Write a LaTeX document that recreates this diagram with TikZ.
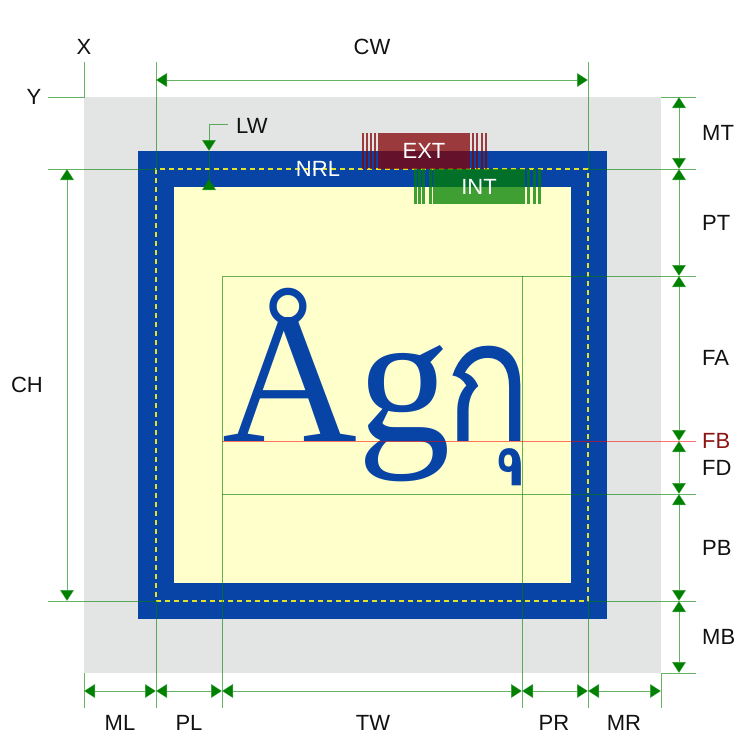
\documentclass[tikz,border=0pt]{standalone}
\usepackage{fontspec}
\setmainfont{Liberation Serif}
\setsansfont{Liberation Sans}
\newfontfamily\thaifont[Script=Thai, FakeStretch=0.85]{Loma}
\usetikzlibrary{arrows.meta,calc}
\definecolor{cMargin}{HTML}{E3E5E4}
\definecolor{cBorder}{HTML}{0844A5}
\definecolor{cPad}{HTML}{FFFFCC}
\definecolor{cNrl}{HTML}{E1E128}
\definecolor{cDim}{HTML}{008000}
\definecolor{cExt}{HTML}{830204}
\definecolor{cInt}{HTML}{008000}
\definecolor{cFB}{HTML}{8C1414}
\definecolor{cInk}{HTML}{111111}
\tikzset{
  font=\sffamily\fontsize{22}{26}\selectfont,
  plate/.style={rectangle, draw=none, fill=#1, inner sep=0pt, outer sep=0pt},
  nrlbox/.style={rectangle, draw=cNrl, line width=1.5pt, dash pattern=on 5pt off 4pt, inner sep=0pt, outer sep=0pt, minimum width=432pt, minimum height=432pt},
  tag/.style={rectangle, fill=#1, fill opacity=.75, text opacity=1, text=white, inner sep=0pt, outer sep=0pt},
  dim/.style={draw=cDim, draw opacity=.6, line width=1pt},
  dimarr/.style={dim, {Triangle[length=11pt,width=14pt]}-{Triangle[length=11pt,width=14pt]}},
  dimto/.style={dim, -{Triangle[length=11pt,width=14pt]}},
  fbline/.style={draw=red, draw opacity=.55, line width=1pt},
  lbl/.style={inner sep=0pt, text=cInk},
}
\begin{document}
\begin{tikzpicture}[x=1pt, y=-1pt]
\useasboundingbox (0,0) rectangle (737,734);
\coordinate (ctr) at (372.5,385);
% boxes
\node[plate=cMargin, minimum width=577pt, minimum height=576pt] (margin) at (ctr) {};
\node[plate=cBorder, minimum width=469pt, minimum height=468pt] (border) at (ctr) {};
\node[plate=cPad, minimum width=397pt, minimum height=396pt] (padding) at (ctr) {};
\node[nrlbox] (nrl) at (372,385) {};
\node[inner sep=0pt, outer sep=0pt, minimum width=300pt, minimum height=218pt] (txt) at (372,385) {};
% EXT / INT
\foreach \sx in {362,366,370,374,472,476,481,485}
  \fill[cExt, opacity=.75] (\sx,133) rectangle ++(2,36);
\node[tag=cExt, minimum width=92pt, minimum height=36pt] (ext) at (424,151) {EXT};
\foreach \sx in {414,418,422,429,527,533,538}
  \fill[cInt, opacity=.75] (\sx,169) rectangle ++(2.5,35);
\node[tag=cInt, minimum width=92pt, minimum height=35pt] (int) at (479,186.5) {INT};
\node[lbl, text=white] (nrlT) at (318,169) {NRL};
% glyphs
\coordinate (base) at (222,441);
\node[anchor=base west, inner sep=0pt, text=cBorder, font=\rmfamily\fontsize{187}{190}\selectfont] (glyphs) at (base)
  {Åg\kern-6pt{\thaifont\fontsize{170}{180}\selectfont กุ}};
% extension lines
\coordinate (farL) at (48,0); \coordinate (farR) at (696,0);
\coordinate (farT) at (0,62); \coordinate (farB) at (0,708);
\draw[dim] (margin.north west -| farL) -- (margin.north west) -- (margin.north west |- farT);
\draw[dim] (nrl.north west |- farT) -- (nrl.north west) -- (nrl.north west -| farL);
\draw[dim] (nrl.north east |- farT) -- (nrl.north east) -- (nrl.north east -| farR);
\draw[dim] (margin.north east) -- (margin.north east -| farR);
\draw[dim] (nrl.south west -| farL) -- (nrl.south west) -- (nrl.south west |- farB);
\draw[dim] (nrl.south east -| farR) -- (nrl.south east) -- (nrl.south east |- farB);
\draw[dim] (margin.south east -| farR) -- (margin.south east) -- (margin.south east |- farB);
\draw[dim] (margin.south west) -- (margin.south west |- farB);
\draw[dim] (txt.north west |- farB) -- (txt.north west) -- (txt.north west -| farR);
\draw[dim] (txt.north east) -- (txt.north east |- farB);
\draw[dim] (txt.south west) -- (txt.south west -| farR);
\draw[fbline] (base) -- (base -| farR);
% dimensions
\coordinate (dimT) at (0,80); \coordinate (dimL) at (67,0);
\coordinate (dimR) at (679,0); \coordinate (dimB) at (0,691);
\draw[dimarr] (nrl.north west |- dimT) -- (nrl.north east |- dimT);
\draw[dimarr] (nrl.north west -| dimL) -- (nrl.south west -| dimL);
\foreach \a/\b in {margin.north east/nrl.north east, nrl.north east/txt.north east, txt.north east/base,
    base/txt.south east, txt.south east/nrl.south east, nrl.south east/margin.south east}
  \draw[dimarr] (\a -| dimR) -- (\b -| dimR);
\foreach \a/\b in {margin.south west/nrl.south west, nrl.south west/txt.south west, txt.south west/txt.south east,
    txt.south east/nrl.south east, nrl.south east/margin.south east}
  \draw[dimarr] (\a |- dimB) -- (\b |- dimB);
\coordinate (lwK) at (209,124); \coordinate (lwE) at (228,124); \coordinate (lwB) at (209,189);
\draw[dimto] (lwE) -- (lwK) -- (lwK |- border.north);
\draw[dim] (lwK |- border.north) -- (lwB);
\draw[dimto] (lwB) -- ++(0,-10);
% labels
\node[lbl] (lX) at (84,47) {X};
\node[lbl] (lY) at (34,97) {Y};
\node[lbl] (lCW) at (372,47) {CW};
\node[lbl, anchor=west] (lLW) at (236,126) {LW};
\node[lbl] (lCH) at (27,385) {CH};
\foreach \t/\y in {MT/133,PT/223,FA/358,FD/468,PB/548,MB/637}
  \node[lbl, anchor=west] (l\t) at (702,\y) {\t};
\node[lbl, anchor=west, text=cFB] (lFB) at (702,441) {FB};
\foreach \t/\x in {ML/120,PL/189,TW/373,PR/554,MR/624}
  \node[lbl] (l\t) at (\x,723) {\t};
\end{tikzpicture}
\end{document}
